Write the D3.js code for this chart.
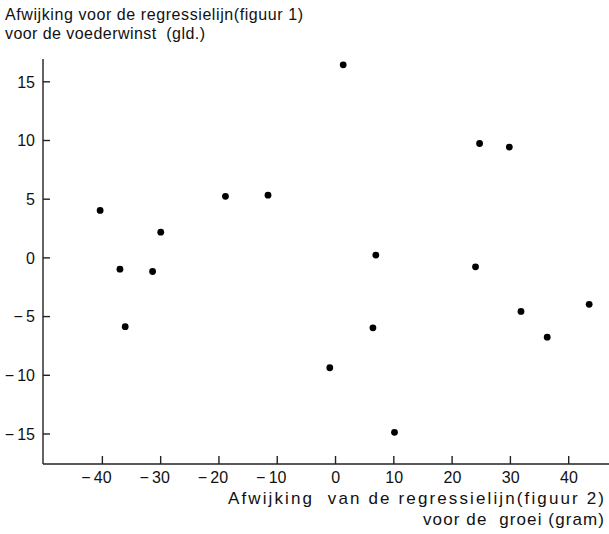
<!DOCTYPE html>
<html>
<head>
<meta charset="utf-8">
<script src="https://cdn.jsdelivr.net/npm/d3@7"></script>
<style>
    body { margin: 0; background: #fff; }
    text { font-family: "Liberation Sans", Arial, sans-serif; fill: #111; white-space: pre; }
</style>
</head>
<body>
<div id="chart"></div>
<script>
// deviations from regression line: growth (gram) vs feed profit (gld.)
var groei = [-40.3, -36.9, -36.0, -31.3, -29.9, -18.8, -11.5, 1.4, -0.9, 6.5, 7.0, 10.2, 24.1, 24.8, 29.9, 31.9, 36.4, 43.6];
var voederwinst = [4.0, -1.0, -5.9, -1.2, 2.15, 5.2, 5.3, 16.4, -9.4, -6.0, 0.2, -14.9, -0.8, 9.7, 9.4, -4.6, -6.8, -4.0];

var xTicks = [-40, -30, -20, -10, 0, 10, 20, 30, 40];
var yTicks = [-15, -10, -5, 0, 5, 10, 15];

var yTitle = ["Afwijking voor de regressielijn(figuur 1)", "voor de voederwinst  (gld.)"];
var xTitle = ["Afwijking  van de regressielijn(figuur 2)", "voor de  groei (gram)"];

var width = 609, height = 534;
var margin = { top: 59, right: 0, bottom: 70, left: 43 };

var svg = d3.select("#chart").append("svg")
    .attr("width", width)
    .attr("height", height);

var x = d3.scaleLinear()
    .domain([-50.1, 47])
    .range([margin.left, width - margin.right]);

var y = d3.scaleLinear()
    .domain([-17.6, 16.9])
    .range([height - margin.bottom, margin.top]);

function fmt(d) {
    return d < 0 ? "\u2212\u2009" + Math.abs(d) : String(d);
}

// x axis, ticks pointing up into the plot
var xAxis = svg.append("g")
    .attr("transform", "translate(0," + y.range()[0] + ")")
    .call(d3.axisTop(x).tickValues(xTicks).tickSize(8).tickFormat(""));
xAxis.select(".domain").attr("d", "M" + x.range()[0] + ",0H" + x.range()[1]);

xAxis.selectAll(".tick").append("text")
    .attr("y", 19)
    .attr("text-anchor", "end")
    .attr("dx", function(d) { return String(Math.abs(d)).length * 4.6; })
    .style("font-size", "16px")
    .text(fmt);

// y axis, ticks pointing right
var yAxis = svg.append("g")
    .attr("transform", "translate(" + x.range()[0] + ",0)")
    .call(d3.axisRight(y).tickValues(yTicks).tickSize(7).tickFormat(""));
yAxis.select(".domain").attr("d", "M0," + y.range()[0] + "V" + y.range()[1]);

yAxis.selectAll(".tick").append("text")
    .attr("x", -8)
    .attr("dy", "0.36em")
    .attr("text-anchor", "end")
    .style("font-size", "16px")
    .text(fmt);

svg.selectAll(".domain, .tick line")
    .attr("stroke", "#222")
    .attr("stroke-width", 1.4);

// points
svg.append("g").selectAll("circle")
    .data(groei)
    .enter()
    .append("circle")
    .attr("cx", function(d) { return x(d); })
    .attr("cy", function(d, i) { return y(voederwinst[i]); })
    .attr("r", 3.4)
    .attr("fill", "#000");

// titles, stretched to the lettering widths of the original
var yTitleLen = [298, 200];
var xTitleLen = [376, 181];

svg.append("g").selectAll("text")
    .data(yTitle)
    .enter()
    .append("text")
    .attr("x", 5)
    .attr("y", function(d, i) { return 20 + i * 19; })
    .attr("textLength", function(d, i) { return yTitleLen[i]; })
    .attr("lengthAdjust", "spacing")
    .style("font-size", "16px")
    .text(function(d) { return d; });

svg.append("g").selectAll("text")
    .data(xTitle)
    .enter()
    .append("text")
    .attr("x", function(d, i) { return 604 - xTitleLen[i]; })
    .attr("y", function(d, i) { return 504 + i * 21; })
    .attr("textLength", function(d, i) { return xTitleLen[i]; })
    .attr("lengthAdjust", "spacing")
    .style("font-size", "17px")
    .text(function(d) { return d; });
</script>
</body>
</html>
